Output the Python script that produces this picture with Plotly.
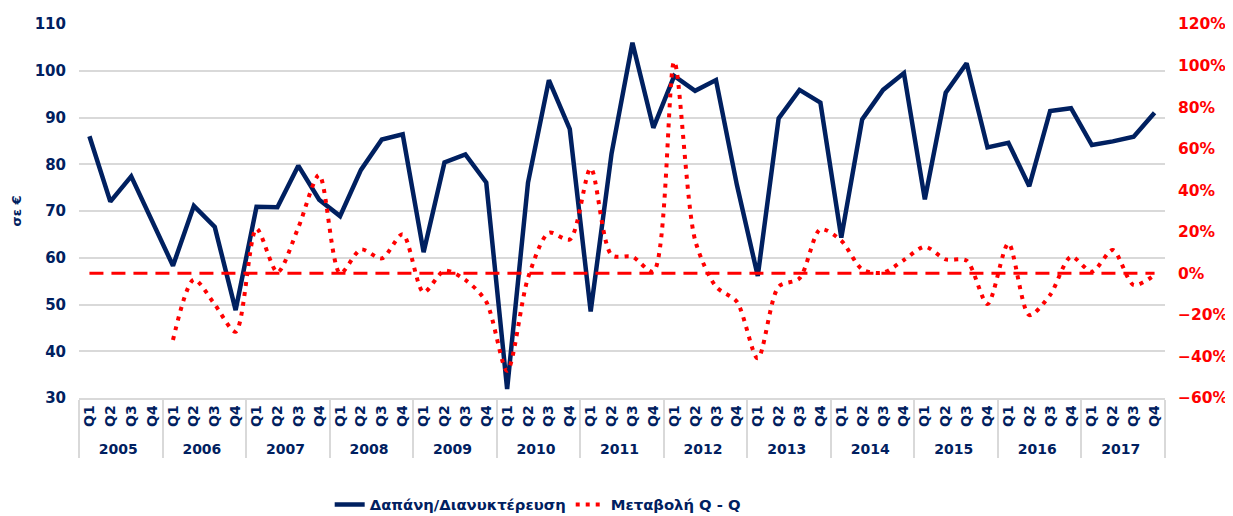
import plotly.graph_objects as go

years = ["2005", "2006", "2007", "2008", "2009", "2010", "2011",
         "2012", "2013", "2014", "2015", "2016", "2017"]
quarters = ["Q1", "Q2", "Q3", "Q4"]

spend_per_night = [
    86.0, 72.0, 77.4, 67.9,
    58.3, 71.1, 66.6, 48.8,
    70.9, 70.8, 79.7, 72.4,
    68.9, 78.8, 85.3, 86.4,
    61.2, 80.4, 82.1, 76.1,
    31.9, 76.1, 98.0, 87.5,
    48.5, 82.3, 106.0, 87.8,
    98.9, 95.7, 98.0, 75.6,
    56.1, 89.8, 95.9, 93.2,
    64.3, 89.6, 95.9, 99.5,
    72.5, 95.3, 101.6, 83.6,
    84.6, 75.3, 91.4, 92.0,
    84.1, 84.9, 85.9, 91.0,
]

qoq_change = [
    None, None, None, None,
    -32.1, -3.0, -15.0, -28.1,
    21.5, 0.5, 22.0, 47.3,
    0.0, 11.5, 7.2, 18.8,
    -9.1, 1.3, -3.2, -13.7,
    -46.9, -2.2, 19.5, 16.3,
    50.5, 8.8, 8.0, 0.8,
    101.8, 16.0, -6.4, -13.7,
    -40.9, -6.4, -2.4, 21.2,
    15.7, 1.9, 0.3, 6.4,
    12.8, 6.7, 6.1, -14.8,
    14.4, -20.1, -10.4, 8.0,
    0.8, 11.2, -5.6, -0.8,
]

zero_line = [0.0] * (len(years) * len(quarters))

x_year = [y for y in years for _ in quarters]
x_q = [q for _ in years for q in quarters]

NAVY = "#002060"
RED = "#FF0000"
GRID = "#d9d9d9"

fig = go.Figure()

fig.add_trace(go.Scatter(
    x=[x_year, x_q], y=zero_line, yaxis="y2", mode="lines",
    line=dict(color=RED, width=3, dash="14px,8px"),
    showlegend=False, hoverinfo="skip",
))

fig.add_trace(go.Scatter(
    x=[x_year, x_q], y=spend_per_night, mode="lines",
    name="Δαπάνη/Διανυκτέρευση",
    line=dict(color=NAVY, width=4.5),
))

fig.add_trace(go.Scatter(
    x=[x_year, x_q], y=qoq_change, yaxis="y2", mode="lines",
    name="Μεταβολή Q - Q",
    line=dict(color=RED, width=4, dash="4px,6px", shape="spline", smoothing=0.8),
    connectgaps=False,
))

fig.update_layout(
    width=1233, height=516,
    margin=dict(l=71, r=76, t=16, b=126, autoexpand=False),
    paper_bgcolor="white", plot_bgcolor="white",
    font=dict(family="DejaVu Sans", color=NAVY),
    xaxis=dict(
        type="multicategory",
        range=[-0.5, 51.5],
        tickangle=-90,
        tickfont=dict(family="DejaVu Sans", size=14, color=NAVY, weight="bold"),
        showline=True, linecolor=GRID, linewidth=1.5,
        showgrid=False, ticks="",
        showdividers=True, dividercolor=GRID, dividerwidth=1.5,
    ),
    yaxis=dict(
        range=[30, 110], dtick=10,
        tickfont=dict(family="DejaVu Sans", size=15, color=NAVY, weight="bold"),
        gridcolor=GRID, gridwidth=1.5, zeroline=False,
        ticklabelstandoff=12,
        title=dict(text="σε €", font=dict(family="DejaVu Sans", size=13, color=NAVY, weight="bold"), standoff=10),
    ),
    yaxis2=dict(
        overlaying="y", side="right",
        range=[-60, 120], dtick=20, ticksuffix="%",
        tickfont=dict(family="DejaVu Sans", size=15.5, color=RED, weight="bold"),
        showgrid=False, zeroline=False,
        ticklabelstandoff=12,
    ),
    legend=dict(
        orientation="h", xref="container", yref="container",
        x=0.43, xanchor="center", y=0.037, yanchor="middle",
        font=dict(family="DejaVu Sans", size=14.8, color=NAVY, weight="bold"),
    ),
)

fig.write_html("out.html")
